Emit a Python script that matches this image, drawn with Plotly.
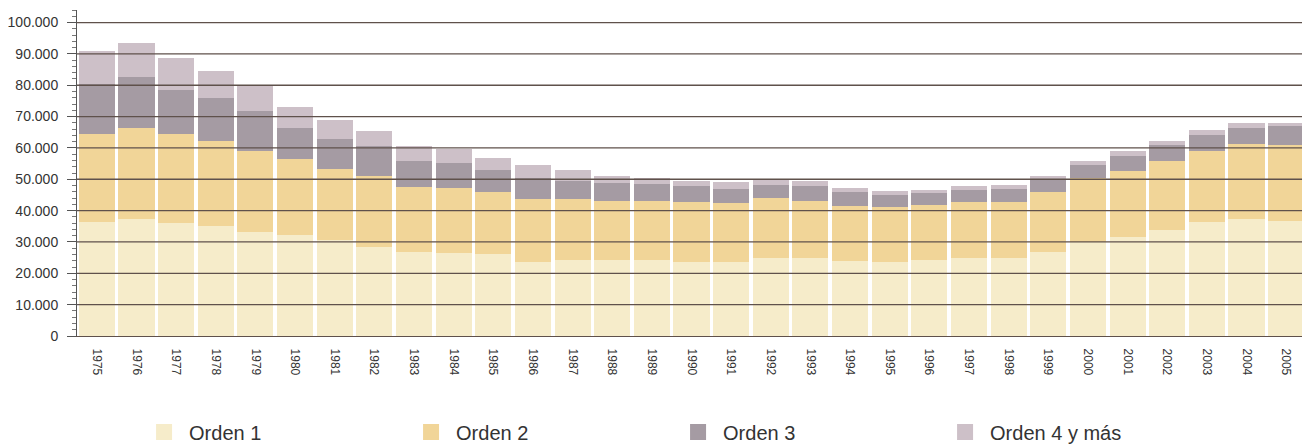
import plotly.graph_objects as go

years = [str(y) for y in range(1975, 2006)]

# values per birth order
orden1 = [36500, 37300, 36200, 35200, 33300, 32300, 30700, 28500, 26900, 26600,
          26200, 23700, 24300, 24300, 24300, 23500, 23500, 24800, 24800, 24000,
          23700, 24300, 25000, 24800, 26900, 30100, 31700, 33900, 36300, 37400, 36700]
orden2 = [28000, 29200, 28300, 27100, 25800, 24200, 22500, 22400, 20600, 20600,
          19600, 20100, 19400, 18800, 18800, 19100, 18900, 19200, 18300, 17500,
          17400, 17600, 17900, 18100, 19100, 20200, 21000, 21800, 22600, 23800, 24300]
orden3 = [16000, 16000, 14100, 13600, 12600, 9800, 9600, 9600, 8400, 8000,
          7100, 6600, 5800, 5700, 5500, 5100, 4600, 4200, 4600, 4300,
          3900, 3700, 3700, 4000, 3800, 4100, 4600, 5100, 5300, 5300, 5900]
orden4 = [10500, 11000, 10100, 8800, 8300, 6600, 6100, 5000, 4600, 4500,
          3900, 4000, 3500, 2400, 1800, 1800, 2100, 1600, 1600, 1400,
          1100, 1000, 1300, 1300, 1300, 1300, 1600, 1500, 1400, 1600, 1200]

names = ["Orden 1", "Orden 2", "Orden 3", "Orden 4 y más"]
colors = ["#f6ecca", "#f1d598", "#a59ba3", "#cdc0c8"]
series = [orden1, orden2, orden3, orden4]

grid_vals = list(range(10000, 100001, 10000))

fig = go.Figure()
for name, vals, col in zip(names, series, colors):
    fig.add_bar(x=years, y=vals, name=name, marker=dict(color=col, line=dict(width=0)),
                showlegend=False)
    # larger legend swatch
    fig.add_scatter(x=[None], y=[None], mode="markers", name=name,
                    marker=dict(symbol="square", size=20, color=col))

# gridlines sit on top of the bars in the original
for v in grid_vals:
    fig.add_shape(type="line", xref="paper", yref="y", x0=0, x1=1, y0=v, y1=v,
                  line=dict(color="#5f514b", width=1.3), layer="above")

# page body keeps its default 8px margin, so the figure is a bit smaller than the window
fig.update_layout(
    width=1302, height=438,
    barmode="stack", bargap=0.09,
    separators=",.",
    plot_bgcolor="white", paper_bgcolor="white",
    margin=dict(l=69, r=4, t=2, b=110, autoexpand=False),
    font=dict(family="Liberation Sans, Arial", color="#333333"),
    legend=dict(orientation="h", x=0.0505, y=0.032, xanchor="left", yanchor="middle",
                yref="container", traceorder="normal", itemwidth=40,
                entrywidth=212, entrywidthmode="pixels",
                font=dict(size=20, color="#333333"), itemsizing="trace"),
)
fig.update_yaxes(range=[0, 104000], tickvals=[0] + grid_vals, tickformat=",d",
                 showgrid=False, zeroline=False, automargin=False,
                 showline=True, linecolor="#555555", linewidth=1,
                 ticks="outside", ticklen=9, tickcolor="#555555", ticklabelstandoff=6,
                 minor=dict(dtick=2000, ticks="outside", ticklen=4, tickcolor="#777777"),
                 tickfont=dict(size=14, color="#333333"))
fig.update_xaxes(tickangle=90, showgrid=False, showline=True, linecolor="#5f514b",
                 linewidth=1.3, ticks="", automargin=False, ticklabelstandoff=9,
                 tickfont=dict(size=12, color="#333333"))

fig.write_html("out.html")
